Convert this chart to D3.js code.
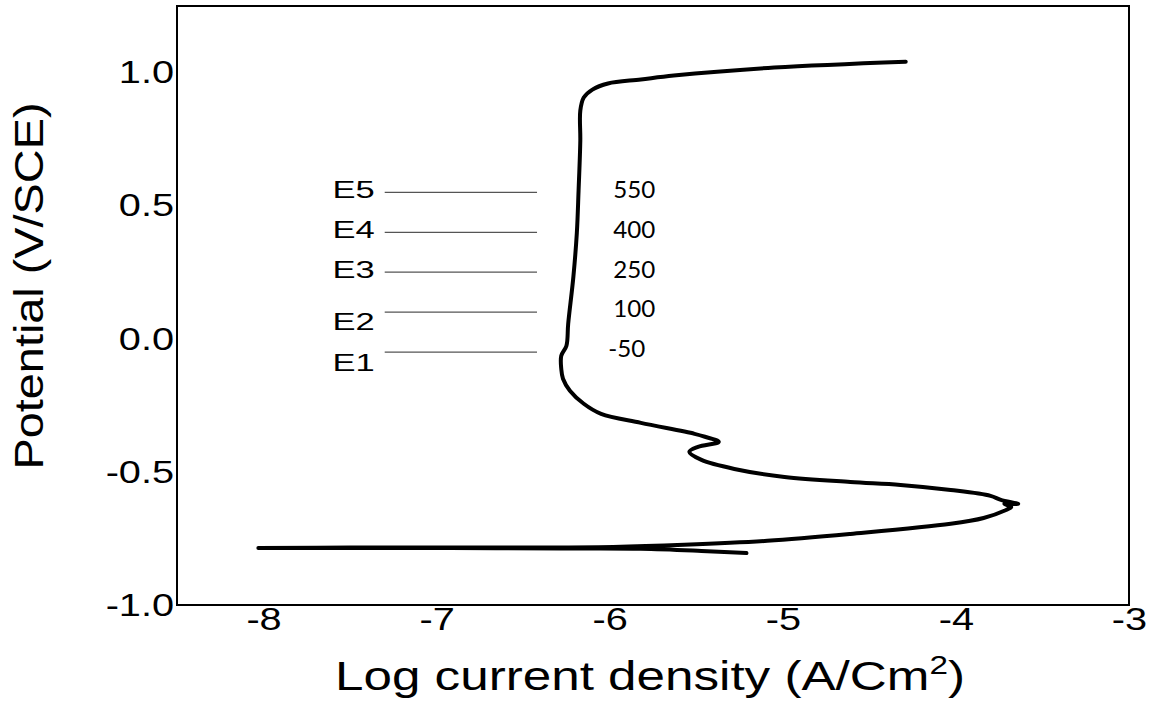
<!DOCTYPE html>
<html>
<head>
<meta charset="utf-8">
<script src="https://cdn.jsdelivr.net/npm/d3@7"></script>
<style>
  html, body { margin: 0; padding: 0; background: #fff; }
  svg { display: block; }
</style>
</head>
<body>
<svg id="chart" width="1149" height="704"></svg>
<script>
// Polarization curve: log current density (A/cm²) vs potential (V/SCE)
const logCurrent = [
  -5.21, -5.47, -5.82, -6.28, -6.92, -7.50, -8.03,
  -7.50, -6.63, -5.98, -5.57, -5.09, -4.61, -4.03, -3.84, -3.71, -3.68, -3.72, -3.64,
  -3.74, -3.80, -4.03, -4.32, -4.61, -4.99, -5.28, -5.47, -5.54, -5.49, -5.37, -5.45,
  -5.51, -5.82, -6.05, -6.15, -6.23, -6.27, -6.28, -6.28, -6.25, -6.24, -6.21, -6.19,
  -6.18, -6.17, -6.17, -6.15, -6.10, -6.01, -5.82, -5.63, -5.05, -4.29
];
const potential = [
  -0.805, -0.797, -0.789, -0.788, -0.786, -0.786, -0.786,
  -0.784, -0.784, -0.782, -0.774, -0.759, -0.733, -0.695, -0.673, -0.643, -0.632, -0.620, -0.620,
  -0.605, -0.590, -0.568, -0.549, -0.538, -0.519, -0.489, -0.455, -0.425, -0.406, -0.387, -0.368,
  -0.357, -0.316, -0.282, -0.244, -0.195, -0.150, -0.113, -0.064, -0.026, 0.056, 0.233, 0.398,
  0.556, 0.744, 0.857, 0.906, 0.936, 0.959, 0.974, 0.989, 1.019, 1.041
];

// Marked potential levels (mV)
const levelNames = ["E5", "E4", "E3", "E2", "E1"];
const levelValues = [550, 400, 250, 100, -50];

// Axis ticks
const xTicks = [-8, -7, -6, -5, -4, -3];
const yTicks = [-1.0, -0.5, 0.0, 0.5, 1.0];

const svg = d3.select("#chart");
const plot = { left: 177, top: 6, right: 1129, bottom: 605 };

const x = d3.scaleLinear().domain([-8.5, -3]).range([plot.left, plot.right]);
const y = d3.scaleLinear().domain([-1.0, 1.25]).range([plot.bottom, plot.top]);

// Stretch text horizontally to a wider set
function stretch(sel, k) {
  sel.each(function () {
    const w = this.getComputedTextLength();
    d3.select(this).attr("textLength", w * k).attr("lengthAdjust", "spacingAndGlyphs");
  });
}

// Axes (labels only, no tick marks)
const xAxis = svg.append("g")
  .attr("transform", `translate(0,${plot.bottom})`)
  .call(d3.axisBottom(x).tickValues(xTicks).tickSize(0).tickPadding(2).tickFormat(d => String(d)));
const yAxis = svg.append("g")
  .attr("transform", `translate(${plot.left},0)`)
  .call(d3.axisLeft(y).tickValues(yTicks).tickSize(0).tickPadding(3).tickFormat(d => d.toFixed(1)));

[xAxis, yAxis].forEach(g => {
  g.select(".domain").remove();
  g.selectAll("text")
    .attr("font-family", "'Liberation Sans', Arial, sans-serif")
    .attr("font-size", 32)
    .attr("fill", "#000");
});
stretch(xAxis.selectAll("text"), 1.24);
stretch(yAxis.selectAll("text"), 1.24);

// Frame
svg.append("rect")
  .attr("x", plot.left).attr("y", plot.top)
  .attr("width", plot.right - plot.left).attr("height", plot.bottom - plot.top)
  .attr("fill", "none").attr("stroke", "#000").attr("stroke-width", 2);

// Level marker lines with names and values
const lineStart = -7.3, lineEnd = -6.42;
const levels = svg.append("g");
levelValues.forEach((v, i) => {
  const yy = y(v / 1000);
  levels.append("line")
    .attr("x1", x(lineStart)).attr("x2", x(lineEnd))
    .attr("y1", yy).attr("y2", yy)
    .attr("stroke", "#555").attr("stroke-width", 1.2);
  const nameOffset = levelNames[i] === "E1" ? 11 : (levelNames[i] === "E2" ? 10 : -3);
  levels.append("text")
    .attr("x", x(lineStart) - 10)
    .attr("y", yy + nameOffset)
    .attr("dy", "0.36em")
    .attr("text-anchor", "end")
    .attr("font-family", "'Liberation Sans', Arial, sans-serif")
    .attr("font-size", 23)
    .attr("fill", "#000")
    .text(levelNames[i])
    .call(stretch, 1.5);
  levels.append("text")
    .attr("x", x(-5.98) - (v < 0 ? 5 : 0))
    .attr("y", yy - 3)
    .attr("dy", "0.36em")
    .attr("font-family", "Lato, 'Open Sans', sans-serif")
    .attr("font-size", 23)
    .attr("fill", "#000")
    .text(String(v))
    .call(stretch, 1.05);
});

// Curve
const pts = logCurrent.map((d, i) => [d, potential[i]]);
svg.append("path")
  .datum(pts)
  .attr("fill", "none")
  .attr("stroke", "#000")
  .attr("stroke-width", 4)
  .attr("stroke-linejoin", "round")
  .attr("stroke-linecap", "round")
  .attr("d", d3.line().x(d => x(d[0])).y(d => y(d[1])).curve(d3.curveCatmullRom.alpha(0.5)));

// Axis titles
const xTitle = svg.append("text")
  .attr("x", 650).attr("y", 690)
  .attr("text-anchor", "middle")
  .attr("font-family", "'Liberation Sans', Arial, sans-serif")
  .attr("font-size", 40)
  .attr("fill", "#000");
xTitle.append("tspan").text("Log current density (A/Cm");
xTitle.append("tspan").attr("font-size", 26).attr("dy", -16).text("2");
xTitle.append("tspan").attr("dy", 16).text(")");
xTitle.attr("textLength", 630).attr("lengthAdjust", "spacingAndGlyphs");

svg.append("text")
  .attr("transform", "translate(43,286) rotate(-90)")
  .attr("text-anchor", "middle")
  .attr("font-family", "'Liberation Sans', Arial, sans-serif")
  .attr("font-size", 40)
  .attr("fill", "#000")
  .attr("textLength", 367)
  .attr("lengthAdjust", "spacingAndGlyphs")
  .text("Potential (V/SCE)");
</script>
</body>
</html>
